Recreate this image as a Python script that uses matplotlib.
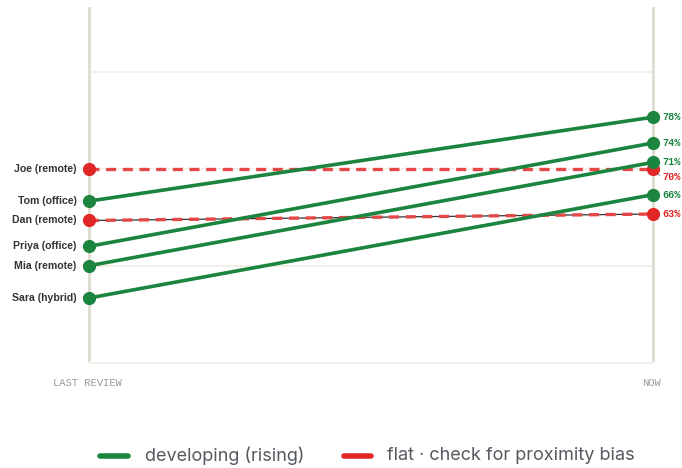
import matplotlib
matplotlib.use("Agg")
import matplotlib.pyplot as plt

# scores at the two review points
names = ["Joe (remote)", "Tom (office)", "Dan (remote)",
         "Priya (office)", "Mia (remote)", "Sara (hybrid)"]
before = [70, 65, 62, 58, 55, 50]
after = [70, 78, 63, 74, 71, 66]
flat = [True, False, True, False, False, False]
period_labels = ["LAST REVIEW", "NOW"]
grid_values = [40, 55, 70, 85]

GREEN = "#1b8540"
RED = "#e02626"
RED_DASH = "#e54646"

fig = plt.figure(figsize=(6.82, 4.68), dpi=100)
W, H = 682, 468
ax = fig.add_axes([89 / W, 1 - 360 / H, (653 - 89) / W, (360 - 8) / H])
ax.set_xlim(0, 1)
ax.set_ylim(40.4, 94.9)
ax.axis("off")

for g in grid_values:
    ax.plot([0, 1], [g, g], color="#f1eee6", lw=1.2, zorder=0, clip_on=False)
for x in (0, 1):
    ax.plot([x, x], [40.4, 94.9], color="#dedad0", lw=2.0, zorder=1, clip_on=False)

for name, b, a, f in zip(names, before, after, flat):
    if f:
        if b != a:
            ax.plot([0, 1], [b, a], color="#333333", lw=0.9, zorder=2)
        ax.plot([0, 1], [b, a], color=RED_DASH, lw=2.4, ls=(0, (3, 2)), zorder=3)
        c = RED
    else:
        ax.plot([0, 1], [b, a], color=GREEN, lw=2.6, zorder=3,
                solid_capstyle="round")
        c = GREEN
    ax.plot([0, 1], [b, a], "o", color=c, ms=8.5, zorder=4, clip_on=False)
    ax.text(-0.022, b, name, ha="right", va="center", fontsize=7.6,
            fontweight="bold", color="#333333", family="Liberation Sans")

# value labels on the right, nudging the one that would collide
for b, a, f in zip(before, after, flat):
    c = RED if f else GREEN
    y = a
    if f and a == 70:
        y = a - 1.25
        ax.plot([1.002, 1.012], [a - 0.2, y + 0.2], color="#999999", lw=0.8,
                clip_on=False, zorder=2)
    ax.text(1.017, y, f"{a}%", ha="left", va="center", fontsize=7.3,
            fontweight="bold", color=c, family="Liberation Mono")

fig.text(53 / W, 1 - 383 / H, period_labels[0], ha="left", va="center",
         fontsize=7.6, color="#9a9a9a", family="Liberation Mono")
fig.text(661 / W, 1 - 383 / H, period_labels[1], ha="right", va="center",
         fontsize=7.6, color="#9a9a9a", family="Liberation Mono")

# legend
ly = 1 - 456 / H
fig.lines.append(plt.Line2D([100 / W, 128 / W], [ly, ly], color=GREEN, lw=4,
                            solid_capstyle="round", transform=fig.transFigure))
fig.text(145 / W, ly, "developing (rising)", ha="left", va="center",
         fontsize=13, color="#555a60", family="Inter")
fig.lines.append(plt.Line2D([344 / W, 371 / W], [ly, ly], color=RED, lw=4,
                            solid_capstyle="round", transform=fig.transFigure))
fig.text(387 / W, ly, "flat · check for proximity bias", ha="left", va="center",
         fontsize=13, color="#555a60", family="Inter")

fig.savefig("out.png", dpi=100, facecolor="white")
